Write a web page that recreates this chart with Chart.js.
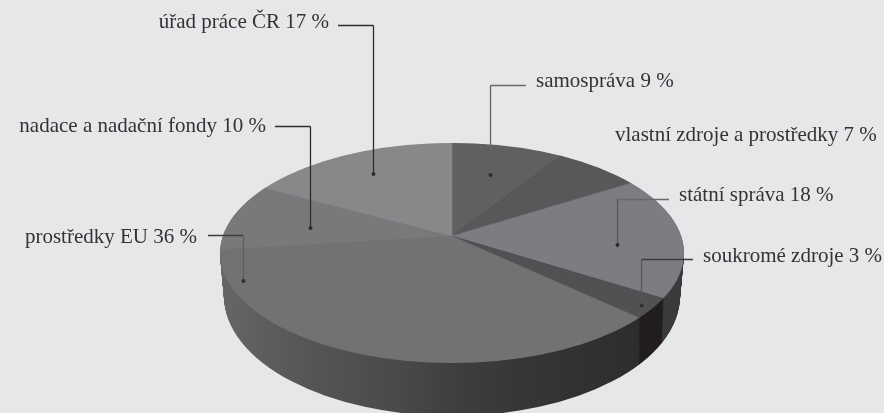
<!DOCTYPE html>
<html lang="cs">
<head>
<meta charset="utf-8">
<title>Zdroje financování</title>
<style>
  html, body { margin: 0; padding: 0; background: #e6e7e9; overflow: hidden; }
  canvas { display: block; }
</style>
<script src="https://cdn.jsdelivr.net/npm/chart.js@4/dist/chart.umd.min.js"></script>
</head>
<body>
<canvas id="pieChart" width="884" height="413"></canvas>
<script>
// data, clockwise from the top of the pie
const sourceNames = ['samospráva', 'vlastní zdroje a prostředky', 'státní správa', 'soukromé zdroje', 'prostředky EU', 'nadace a nadační fondy', 'úřad práce ČR'];
const sourceShares = [9, 7, 18, 3, 36, 10, 17];
const topColors = ['#5f6062', '#58585a', '#7c7d80', '#505153', '#717274', '#78797b', '#87888a'];
const wallColors = ['#333335', '#333335', '#3c3c3e', '#231f20', null, '#6a6a6c', '#6a6a6c'];

// wall shading of the big slice, left to right
const wallStopX = [220, 300, 400, 452, 520, 640];
const wallStopColors = ['#666668', '#575759', '#49494b', '#3f3f41', '#363638', '#2d2d2f'];

// label text position [x, baseline] and leader [line start x, elbow x, line y, dot y]
const labelAnchors = [[536, 87, 'left'], [615, 141, 'left'], [679, 201, 'left'], [703, 262, 'left'], [197, 243, 'right'], [266, 132, 'right'], [329, 28, 'right']];
const leaderPaths = [[526, 490.5, 85.5, 175], null, [669, 617.5, 199.5, 245], [693, 641.5, 259.5, 305.5], [208, 243.5, 235.5, 281], [275, 310.5, 126.5, 228], [338, 373.5, 25.5, 174]];
const leaderLineColors = [['#68696b', '#636466'], null, ['#68696b', '#58585a'], ['#3c3c3e', '#58585a'], ['#3c3c3e', '#5c5c5e'], ['#2e2e30', '#2e2e30'], ['#2e2e30', '#2e2e30']];

// the tilted pie: rim ellipse, apex above its centre because of perspective
const rimTop = { cy: 253, rx: 232, ry: 110, apexY: 236, spanX: 229, spanY: 106.7 };
const rimBottom = { cy: 296, rx: 228, ry: 120, apexY: 276, spanX: 225, spanY: 113 };
const pieX = 452;
const wallLayers = 60;

function lerp(a, b, t) {
  return a + (b - a) * t;
}

function drawLayer(ctx, arcs, t, fillFor) {
  const key = (k) => lerp(rimTop[k], rimBottom[k], t);
  const radius = arcs[0].outerRadius;
  const sx = 320 / radius * key('spanX') / rimTop.spanX;
  const sy = sx * key('spanY') / key('spanX');

  ctx.save();
  ctx.beginPath();
  ctx.ellipse(pieX, key('cy'), key('rx'), key('ry'), 0, 0, Math.PI * 2);
  ctx.clip();
  // rays from the apex are an affine map of the slice angles, the ellipse cuts them off
  ctx.translate(pieX, key('apexY'));
  ctx.scale(sx, sy);
  ctx.translate(-arcs[0].x, -arcs[0].y);
  arcs.forEach(function (arc, i) {
    const proxy = Object.create(arc);
    const fill = fillFor(i, (x) => arc.x + (x - pieX) / sx);
    proxy.options = Object.assign({}, arc.options, { backgroundColor: fill, borderColor: fill });
    proxy.draw(ctx);
  });
  ctx.restore();
}

const tiltedPie = {
  id: 'tiltedPie',
  beforeDatasetDraw(chart) {
    const ctx = chart.ctx;
    const arcs = chart.getDatasetMeta(0).data;

    for (let n = wallLayers; n > 0; n--) {
      drawLayer(ctx, arcs, n / wallLayers, function (i, toLocal) {
        if (wallColors[i]) return wallColors[i];
        const x0 = wallStopX[0];
        const x1 = wallStopX[wallStopX.length - 1];
        const grad = ctx.createLinearGradient(toLocal(x0), 0, toLocal(x1), 0);
        wallStopX.forEach((x, k) => grad.addColorStop((x - x0) / (x1 - x0), wallStopColors[k]));
        return grad;
      });
    }
    drawLayer(ctx, arcs, 0, (i) => topColors[i]);
    return false; // arcs are already painted
  },
  afterDraw(chart) {
    const ctx = chart.ctx;
    ctx.save();
    ctx.font = '21px "Liberation Serif", serif';
    sourceNames.forEach(function (name, i) {
      const a = labelAnchors[i];
      ctx.fillStyle = '#333335';
      ctx.textAlign = a[2];
      ctx.fillText(name + ' ' + sourceShares[i] + ' %', a[0], a[1]);

      const p = leaderPaths[i];
      if (!p) return;
      ctx.lineWidth = 1.3;
      ctx.strokeStyle = leaderLineColors[i][0];
      ctx.beginPath();
      ctx.moveTo(p[0], p[2]);
      ctx.lineTo(p[1], p[2]);
      ctx.stroke();
      ctx.strokeStyle = leaderLineColors[i][1];
      ctx.beginPath();
      ctx.moveTo(p[1], p[2]);
      ctx.lineTo(p[1], p[3]);
      ctx.stroke();
      ctx.fillStyle = '#2e2e30';
      ctx.beginPath();
      ctx.arc(p[1], p[3], 2, 0, Math.PI * 2);
      ctx.fill();
    });
    ctx.restore();
  }
};

new Chart(document.getElementById('pieChart'), {
  type: 'pie',
  data: {
    labels: sourceNames,
    datasets: [{
      data: sourceShares,
      backgroundColor: topColors,
      borderColor: topColors,
      borderWidth: 0.5
    }]
  },
  options: {
    responsive: false,
    animation: false,
    events: [],
    plugins: { legend: { display: false }, tooltip: { enabled: false } }
  },
  plugins: [tiltedPie]
});
</script>
</body>
</html>
